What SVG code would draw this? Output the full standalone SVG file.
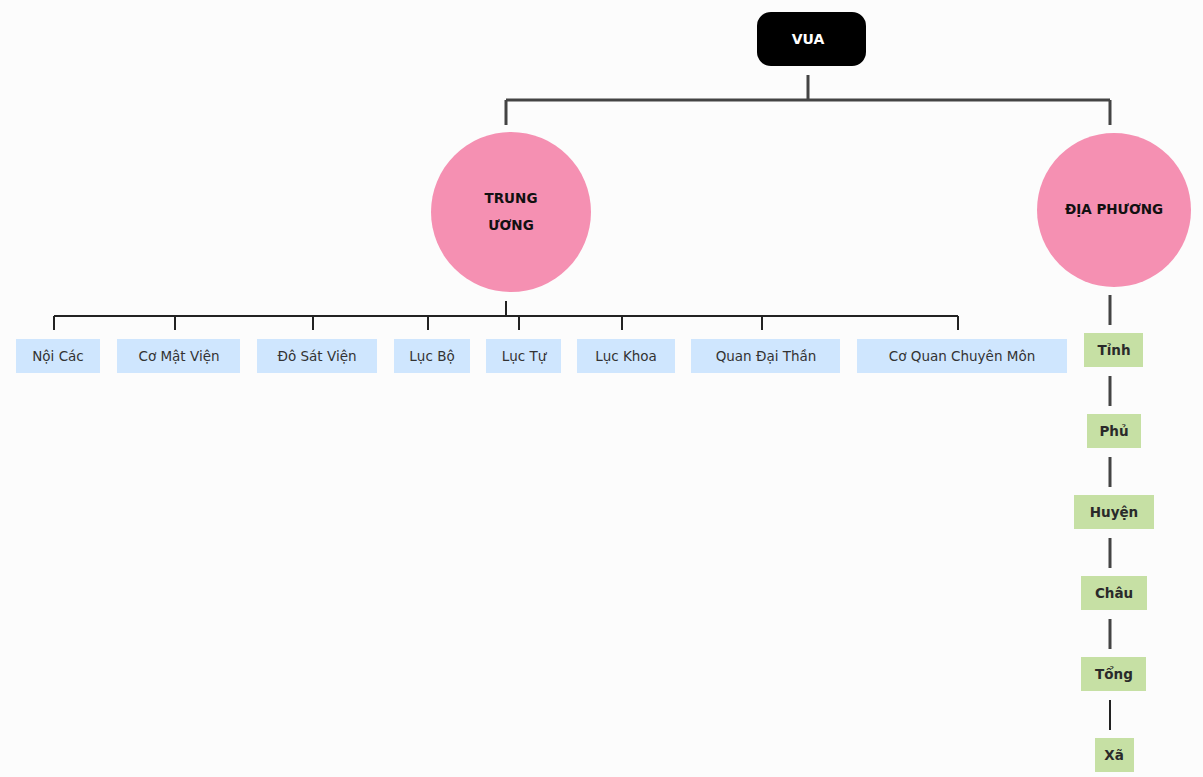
<svg xmlns="http://www.w3.org/2000/svg" width="1203" height="777" viewBox="0 0 1203 777">
<style>
text{font-family:"DejaVu Sans",sans-serif;text-anchor:middle;dominant-baseline:central}
.b rect{fill:#cfe6fe}.b text{font-size:13.5px;fill:#333}
.g rect{fill:#c6e0a4}.g text{font-size:13.5px;font-weight:bold;fill:#2a2a2a}
.c circle{fill:#f590b2}.c text{font-size:13.5px;font-weight:bold;fill:#111}
.l{stroke:#222;stroke-width:2;fill:none}.v{stroke:#444;stroke-width:3;fill:none}
</style>
<rect width="1203" height="777" fill="#fcfcfc"/>
<g id="connectors">
<path class="v" d="M808 75V100M506 100H1110M506 100V125M1110 100V125"/>
<path class="l" d="M506 301V316M54 316H958M54 316V330M175 316V330M313 316V330M428 316V330M519 316V330M622 316V330M762 316V330M958 316V330"/>
<path class="v" d="M1110 295V325M1110 376V406M1110 457V487M1110 538V568M1110 619V649"/>
<path class="l" d="M1110 700V730"/>
</g>
<g id="vua"><rect x="757" y="12" width="109" height="54" rx="14" fill="#000"/><text x="808" y="39" font-size="14" font-weight="bold" fill="#fff">VUA</text></g>
<g id="trung" class="c"><circle cx="511" cy="212" r="80"/><text x="511" y="198">TRUNG</text><text x="511" y="225">ƯƠNG</text></g>
<g id="diaphuong" class="c"><circle cx="1114" cy="210" r="77"/><text x="1114" y="209">ĐỊA PHƯƠNG</text></g>
<g id="n1" class="b"><rect x="16" y="339" width="84" height="34"/><text x="58" y="356">Nội Các</text></g>
<g id="n2" class="b"><rect x="117" y="339" width="123" height="34"/><text x="179" y="356">Cơ Mật Viện</text></g>
<g id="n3" class="b"><rect x="257" y="339" width="120" height="34"/><text x="317" y="356">Đô Sát Viện</text></g>
<g id="n4" class="b"><rect x="394" y="339" width="76" height="34"/><text x="432" y="356">Lục Bộ</text></g>
<g id="n5" class="b"><rect x="486" y="339" width="75" height="34"/><text x="524" y="356">Lục Tự</text></g>
<g id="n6" class="b"><rect x="577" y="339" width="98" height="34"/><text x="626" y="356">Lục Khoa</text></g>
<g id="n7" class="b"><rect x="691" y="339" width="149" height="34"/><text x="766" y="356">Quan Đại Thần</text></g>
<g id="n8" class="b"><rect x="857" y="339" width="210" height="34"/><text x="962" y="356">Cơ Quan Chuyên Môn</text></g>
<g id="tinh" class="g"><rect x="1084" y="333" width="59" height="34"/><text x="1114" y="350">Tỉnh</text></g>
<g id="phu" class="g"><rect x="1087" y="414" width="54" height="34"/><text x="1114" y="431">Phủ</text></g>
<g id="huyen" class="g"><rect x="1074" y="495" width="80" height="34"/><text x="1114" y="512">Huyện</text></g>
<g id="chau" class="g"><rect x="1081" y="576" width="66" height="34"/><text x="1114" y="593">Châu</text></g>
<g id="tong" class="g"><rect x="1081" y="657" width="65" height="34"/><text x="1114" y="674">Tổng</text></g>
<g id="xa" class="g"><rect x="1095" y="738" width="39" height="34"/><text x="1114" y="755" font-weight="normal">Xã</text></g>
</svg>
